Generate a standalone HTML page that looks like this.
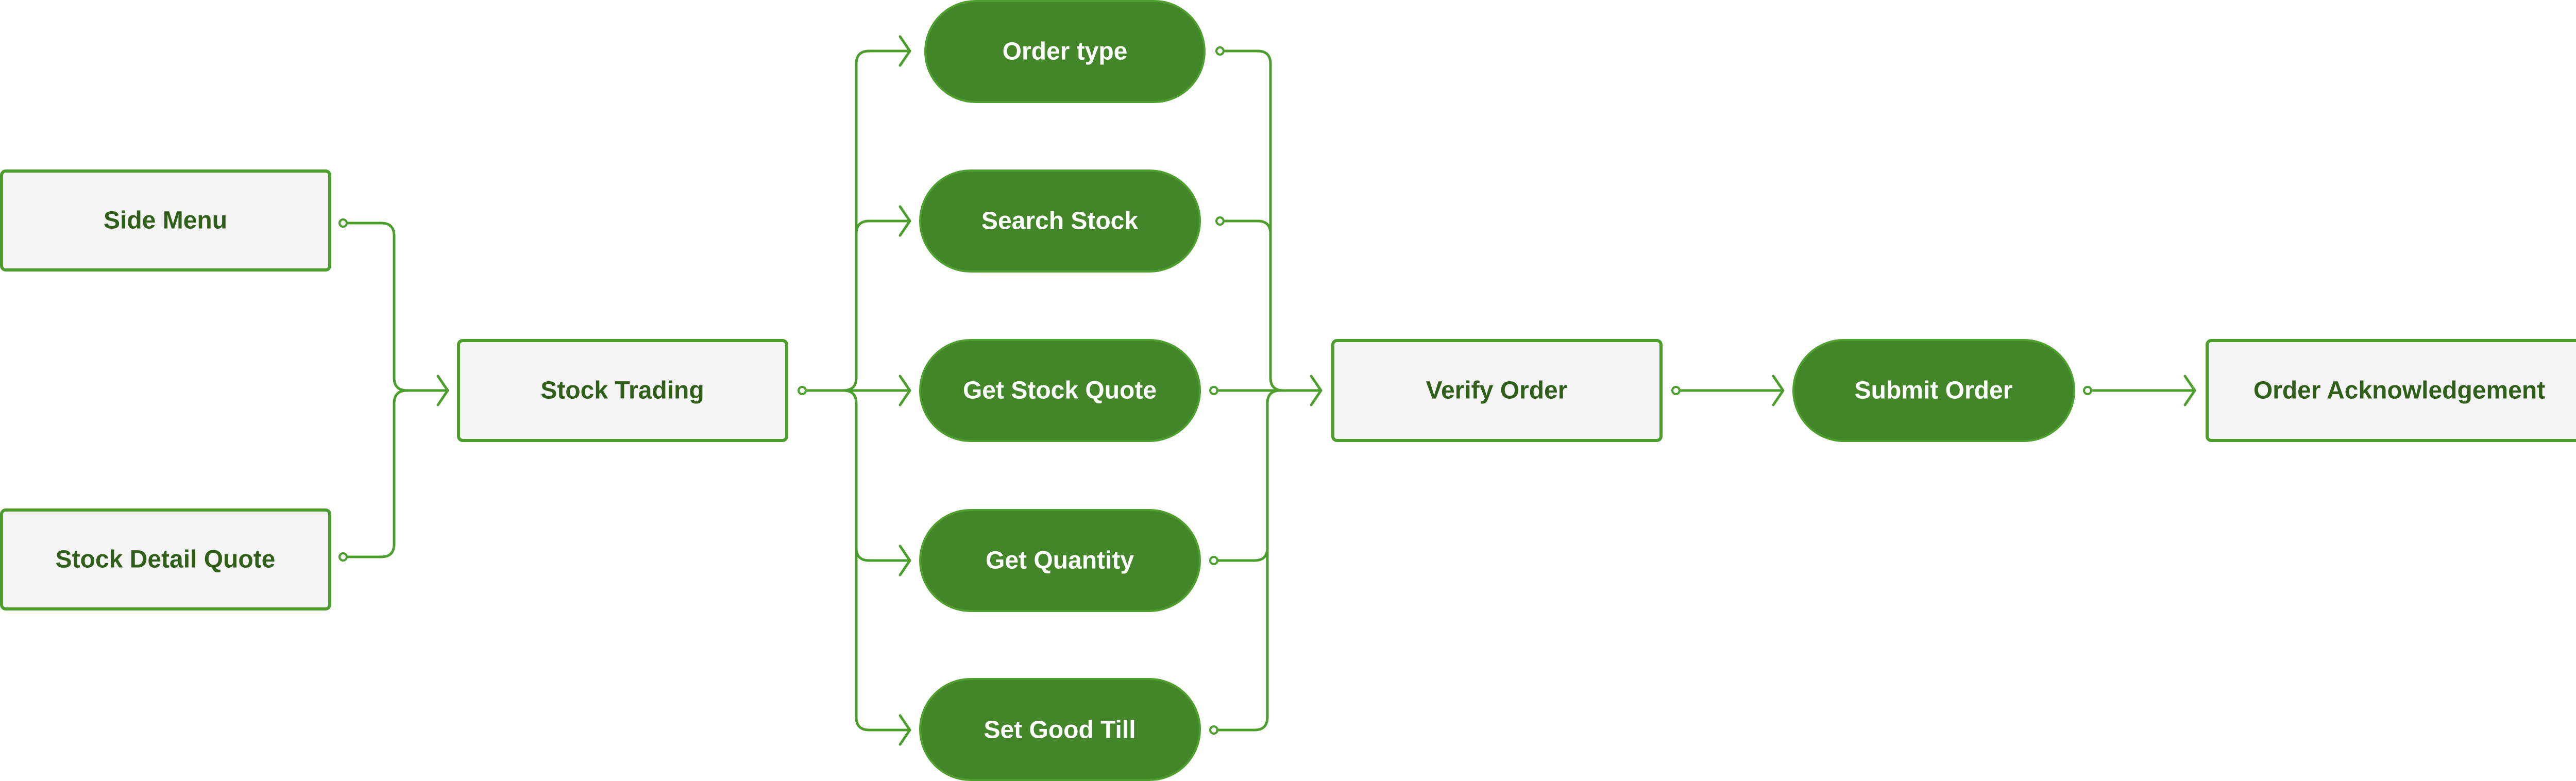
<!DOCTYPE html>
<html><head><meta charset="utf-8"><style>
html,body{margin:0;padding:0;background:#fff;}
svg{display:block;}
text{font-family:"Liberation Sans",sans-serif;font-weight:bold;font-size:48px;text-anchor:middle;dominant-baseline:central;}
.box{fill:#f4f4f4;stroke:#4b9e2b;stroke-width:6;}
.pill{fill:#43862a;stroke:#4e9f2e;stroke-width:4;}
.bt{fill:#2f5f18;}
.pt{fill:#ffffff;}
.c{fill:none;stroke:#4b9e2b;stroke-width:5;stroke-linecap:round;stroke-linejoin:round;}
.dot{fill:#fff;stroke:#4b9e2b;stroke-width:4;}
</style></head><body>
<svg width="5034" height="1516" viewBox="0 0 5034 1516" xmlns="http://www.w3.org/2000/svg">
<!-- connectors -->
<path class="c" d="M666 433 H740 Q765 433 765 458 V733 Q765 758 790 758 H869"/>
<path class="c" d="M666 1081 H740 Q765 1081 765 1056 V783 Q765 758 790 758"/>
<path class="c" d="M850 730 L869 758 L850 786"/>

<path class="c" d="M1557 758 H1766"/>
<path class="c" d="M1637 758 Q1662 758 1662 733 V124 Q1662 99 1687 99 H1766"/>
<path class="c" d="M1662 454 Q1662 429 1687 429 H1766"/>
<path class="c" d="M1637 758 Q1662 758 1662 783 V1392 Q1662 1417 1687 1417 H1766"/>
<path class="c" d="M1662 1063 Q1662 1088 1687 1088 H1766"/>
<path class="c" d="M1747 71 L1766 99 L1747 127"/>
<path class="c" d="M1747 401 L1766 429 L1747 457"/>
<path class="c" d="M1747 730 L1766 758 L1747 786"/>
<path class="c" d="M1747 1060 L1766 1088 L1747 1116"/>
<path class="c" d="M1747 1389 L1766 1417 L1747 1445"/>

<path class="c" d="M2368 99 H2441 Q2466 99 2466 124 V733 Q2466 758 2491 758 H2564"/>
<path class="c" d="M2368 429 H2441 Q2466 429 2466 454"/>
<path class="c" d="M2356 758 H2564"/>
<path class="c" d="M2356 1088 H2435 Q2460 1088 2460 1063 V783 Q2460 758 2485 758"/>
<path class="c" d="M2356 1417 H2435 Q2460 1417 2460 1392 V1063"/>
<path class="c" d="M2545 730 L2564 758 L2545 786"/>

<path class="c" d="M3253 758 H3461"/>
<path class="c" d="M3442 730 L3461 758 L3442 786"/>
<path class="c" d="M4052 758 H4260"/>
<path class="c" d="M4241 730 L4260 758 L4241 786"/>

<!-- nodes -->
<rect class="box" x="3" y="332" width="637" height="192" rx="8"/>
<text class="bt" x="321" y="428">Side Menu</text>
<rect class="box" x="3" y="990" width="637" height="192" rx="8"/>
<text class="bt" x="321" y="1086">Stock Detail Quote</text>
<rect class="box" x="890" y="661" width="637" height="194" rx="8"/>
<text class="bt" x="1208" y="758">Stock Trading</text>

<rect class="pill" x="1796" y="2" width="542" height="196" rx="98"/>
<text class="pt" x="2067" y="100">Order type</text>
<rect class="pill" x="1786" y="331" width="543" height="196" rx="98"/>
<text class="pt" x="2057" y="429">Search Stock</text>
<rect class="pill" x="1786" y="660" width="543" height="196" rx="98"/>
<text class="pt" x="2057" y="758">Get Stock Quote</text>
<rect class="pill" x="1786" y="990" width="543" height="196" rx="98"/>
<text class="pt" x="2057" y="1088">Get Quantity</text>
<rect class="pill" x="1786" y="1318" width="543" height="196" rx="98"/>
<text class="pt" x="2057" y="1417">Set Good Till</text>

<rect class="box" x="2587" y="661" width="637" height="194" rx="8"/>
<text class="bt" x="2905" y="758">Verify Order</text>
<rect class="pill" x="3481" y="660" width="545" height="196" rx="98"/>
<text class="pt" x="3753" y="758">Submit Order</text>
<rect class="box" x="4284" y="661" width="746" height="194" rx="8"/>
<text class="bt" x="4657" y="758">Order Acknowledgement</text>

<!-- dots -->
<circle class="dot" cx="666" cy="433" r="7"/>
<circle class="dot" cx="666" cy="1081" r="7"/>
<circle class="dot" cx="1557" cy="758" r="7"/>
<circle class="dot" cx="2368" cy="99" r="7"/>
<circle class="dot" cx="2368" cy="429" r="7"/>
<circle class="dot" cx="2356" cy="758" r="7"/>
<circle class="dot" cx="2356" cy="1088" r="7"/>
<circle class="dot" cx="2356" cy="1417" r="7"/>
<circle class="dot" cx="3253" cy="758" r="7"/>
<circle class="dot" cx="4052" cy="758" r="7"/>
</svg>
</body></html>
